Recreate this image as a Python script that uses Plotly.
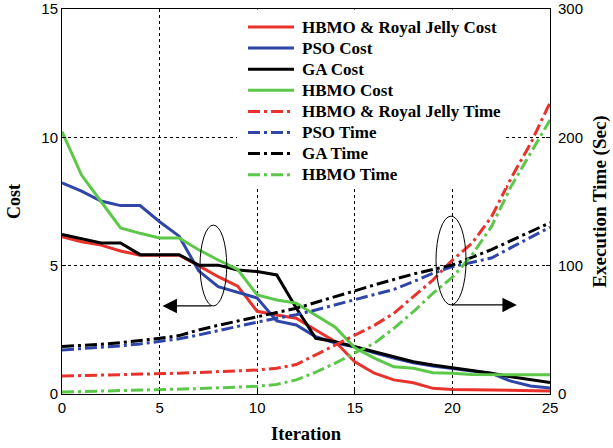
import plotly.graph_objects as go

# Iteration index
iterations = list(range(26))

# Cost per iteration (left axis)
hbmo_rj_cost = [6.13, 5.93, 5.80, 5.57, 5.41, 5.41, 5.41, 5.00, 4.57, 4.20, 3.22, 3.08, 2.95, 2.49, 2.04,
                1.25, 0.81, 0.55, 0.44, 0.22, 0.18, 0.17, 0.16, 0.15, 0.14, 0.12]
pso_cost = [8.23, 7.90, 7.52, 7.34, 7.34, 6.71, 6.15, 4.80, 4.18, 3.95, 3.74, 2.85, 2.69, 2.23, 1.99,
            1.84, 1.60, 1.40, 1.22, 1.09, 1.00, 0.91, 0.80, 0.50, 0.31, 0.23]
ga_cost = [6.22, 6.04, 5.88, 5.88, 5.43, 5.43, 5.43, 5.02, 5.02, 4.83, 4.77, 4.64, 3.35, 2.17, 2.04,
           1.84, 1.65, 1.45, 1.26, 1.13, 1.02, 0.93, 0.81, 0.67, 0.55, 0.45]
hbmo_cost = [10.22, 8.53, 7.50, 6.47, 6.26, 6.08, 6.08, 5.62, 5.22, 4.85, 3.86, 3.66, 3.54, 3.08, 2.60,
             1.80, 1.40, 1.06, 1.00, 0.83, 0.81, 0.76, 0.75, 0.75, 0.75, 0.75]

# Execution time per iteration in seconds (right axis)
hbmo_rj_time = [14.0, 14.3, 14.6, 15.0, 15.3, 15.6, 16.2, 16.8, 17.4, 18.0, 18.7, 20.0, 23.0, 30.5, 38.0,
                46.0, 53.5, 62.9, 75.8, 88.8, 104.4, 117.4, 138.0, 168.0, 195.0, 227.0]
pso_time = [34.3, 35.3, 36.3, 37.5, 39.0, 40.8, 43.0, 46.0, 49.5, 52.8, 56.0, 59.0, 61.8, 65.5, 69.4,
            73.2, 77.1, 81.5, 87.5, 94.0, 99.2, 102.5, 106.0, 114.0, 122.0, 130.0]
ga_time = [37.0, 37.8, 38.8, 40.0, 41.5, 43.4, 45.5, 49.9, 53.5, 57.0, 60.5, 63.5, 66.8, 71.2, 75.8,
           80.4, 85.0, 89.5, 93.5, 97.0, 100.5, 106.5, 112.5, 119.5, 126.5, 133.5]
hbmo_time = [1.5, 1.8, 2.1, 2.4, 2.8, 3.1, 3.6, 4.2, 4.8, 5.4, 6.0, 7.5, 11.0, 17.0, 24.0,
             32.0, 39.5, 51.2, 64.1, 78.5, 91.0, 108.3, 130.4, 161.6, 187.6, 213.5]

x_ticks = [0, 5, 10, 15, 20, 25]
cost_ticks = [0, 5, 10, 15]
time_ticks = [0, 100, 200, 300]

RED = "#e8322b"
BLUE = "#2f46a8"
BLACK = "#000000"
GREEN = "#5cc84a"
DASHDOT = "12px,4px,3px,4px"

series = [
    ("HBMO &amp; Royal Jelly Cost", hbmo_rj_cost, RED, "solid", "y"),
    ("PSO Cost", pso_cost, BLUE, "solid", "y"),
    ("GA Cost", ga_cost, BLACK, "solid", "y"),
    ("HBMO Cost", hbmo_cost, GREEN, "solid", "y"),
    ("HBMO &amp; Royal Jelly Time", hbmo_rj_time, RED, DASHDOT, "y2"),
    ("PSO Time", pso_time, BLUE, DASHDOT, "y2"),
    ("GA Time", ga_time, BLACK, DASHDOT, "y2"),
    ("HBMO Time", hbmo_time, GREEN, DASHDOT, "y2"),
]

W, H = 613, 448
ML, MR, MT, MB = 62, 63, 9, 54
PW, PH = W - ML - MR, H - MT - MB


def px_to_paper(px, py):
    """Convert a pixel position on the page into paper coordinates."""
    return (px - ML) / PW, (H - MB - py) / PH


serif = "Liberation Serif"
sans = "Liberation Sans"

fig = go.Figure()
for name, vals, color, dash, axis in series:
    fig.add_trace(go.Scatter(
        x=iterations, y=vals, name=name, mode="lines", yaxis=axis,
        line=dict(color=color, width=3, dash=dash), showlegend=False,
    ))

# Key box in the upper right of the axes: white panel, line samples and labels
bx0, by0 = px_to_paper(237, 188)
bx1, by1 = px_to_paper(506, 9.5)
fig.add_shape(type="rect", xref="paper", yref="paper", x0=bx0, x1=bx1, y0=by0, y1=by1,
              fillcolor="white", line=dict(width=0), layer="above")
row_top, row_step = 27, 21.1
for k, (name, vals, color, dash, axis) in enumerate(series):
    ry = row_top + k * row_step
    sx0, sy = px_to_paper(248, ry)
    sx1, _ = px_to_paper(294, ry)
    tx, _ = px_to_paper(300, ry)
    fig.add_shape(type="line", xref="paper", yref="paper", x0=sx0, x1=sx1, y0=sy, y1=sy,
                  line=dict(color=color, width=3, dash=dash), layer="above")
    fig.add_annotation(x=tx, y=sy, xref="paper", yref="paper", text=name, showarrow=False,
                       xanchor="left", yanchor="middle",
                       font=dict(family=serif, size=17, color="black", weight="bold"))

# Ellipses grouping the curves, with arrows pointing to their axis
fig.add_shape(type="circle", xref="x", yref="y", x0=7.07, x1=8.44, y0=3.43, y1=6.58,
              line=dict(color="black", width=1))
fig.add_shape(type="circle", xref="x", yref="y", x0=19.16, x1=20.7, y0=3.47, y1=6.93,
              line=dict(color="black", width=1))
fig.add_annotation(x=5.15, y=3.43, ax=7.74, ay=3.43, xref="x", yref="y", axref="x", ayref="y",
                   text="", showarrow=True, arrowhead=2, arrowsize=2.4, arrowwidth=1.2,
                   arrowcolor="black")
fig.add_annotation(x=23.3, y=3.47, ax=19.93, ay=3.47, xref="x", yref="y", axref="x", ayref="y",
                   text="", showarrow=True, arrowhead=2, arrowsize=2.4, arrowwidth=1.2,
                   arrowcolor="black")

axis_common = dict(
    showline=True, linecolor="black", linewidth=1, ticks="inside", ticklen=4,
    tickcolor="black", zeroline=False, automargin=False,
    tickfont=dict(family=sans, size=15, color="black"),
)


def title_font(size):
    return dict(family=serif, size=size, color="black", weight="bold")


fig.update_layout(
    width=W, height=H,
    margin=dict(l=ML, r=MR, t=MT, b=MB),
    paper_bgcolor="white", plot_bgcolor="white",
    showlegend=False,
    xaxis=dict(
        range=[0, 25], tickvals=x_ticks, mirror=True,
        showgrid=True, gridcolor="black", griddash="dot", gridwidth=1,
        title=dict(text="Iteration", font=title_font(18.5), standoff=12),
        **axis_common,
    ),
    yaxis=dict(
        range=[0, 15], tickvals=cost_ticks,
        showgrid=True, gridcolor="black", griddash="dot", gridwidth=1,
        title=dict(text="Cost", font=title_font(18), standoff=16),
        **axis_common,
    ),
    yaxis2=dict(
        range=[0, 300], tickvals=time_ticks, overlaying="y", side="right",
        showgrid=False, ticklabelstandoff=4,
        title=dict(text="Execution Time (Sec)", font=title_font(19), standoff=10),
        **axis_common,
    ),
)

fig.write_html("out.html")
